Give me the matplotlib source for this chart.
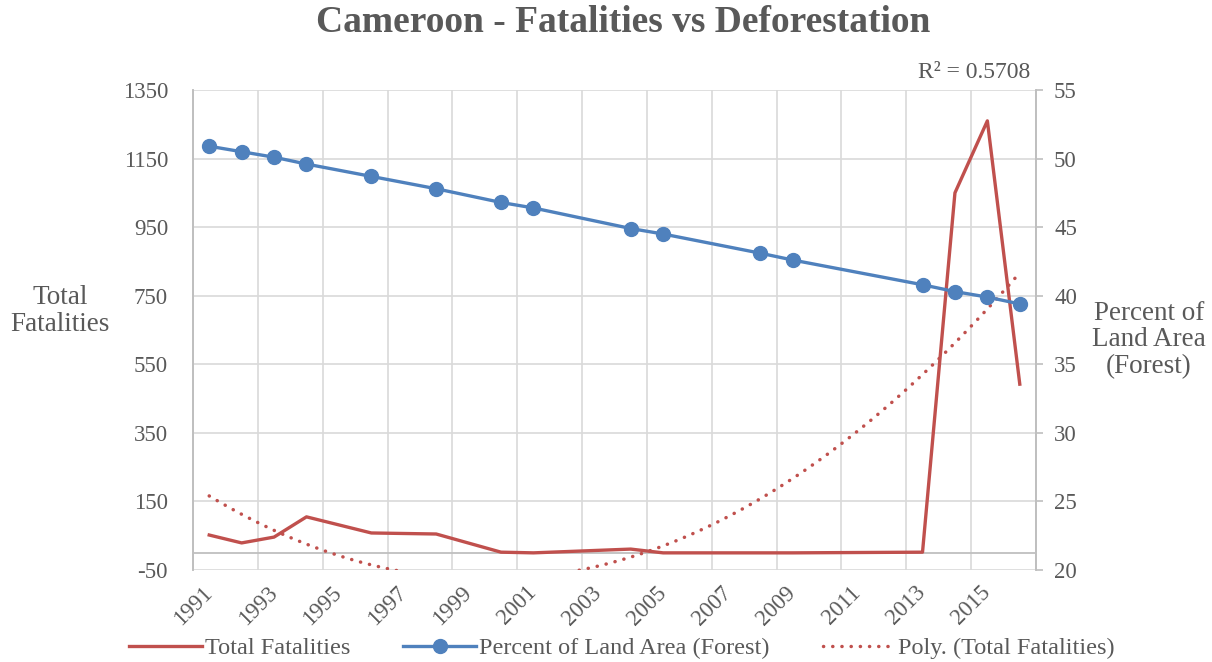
import numpy as np
import matplotlib
matplotlib.use("Agg")
import matplotlib.pyplot as plt
from matplotlib.lines import Line2D

# Data (years with values; other years are blank in the source sheet)
years = [1991, 1992, 1993, 1994, 1996, 1998, 2000, 2001,
         2004, 2005, 2008, 2009, 2013, 2014, 2015, 2016]
fatalities = [52, 29, 46, 105, 58, 55, 2, 0,
              11, 0, 0, 0, 2, 1050, 1260, 492]
forest_pct = [50.9, 50.5, 50.1, 49.6, 48.7, 47.8, 46.8, 46.4,
              44.9, 44.5, 43.1, 42.6, 40.8, 40.3, 39.9, 39.4]
year_labels = list(range(1991, 2016, 2))

red = "#C0504D"
blue = "#4F81BD"
txt = "#595959"
grid_c = "#D9D9D9"
axis_c = "#BFBFBF"

plt.rcParams["font.family"] = ["Liberation Serif", "DejaVu Serif"]
plt.rcParams["axes.unicode_minus"] = False

fig = plt.figure(figsize=(12.12, 6.62), dpi=100)
ax = fig.add_axes([193 / 1212, 1 - 570 / 662, (1036 - 193) / 1212, 480 / 662])
ax2 = ax.twinx()

# order-2 polynomial trendline of fatalities (as in the spreadsheet)
coef = np.polyfit(years, fatalities, 2)
xs = np.linspace(years[0], years[-1], 300)
trend = np.polyval(coef, xs)

dots = (0, (0.05, 2.6))
ax.plot(years, fatalities, color=red, lw=2.4, zorder=3)
ax.plot(xs, trend, color=red, lw=2.5, linestyle=dots,
        dash_capstyle="round", zorder=3)
ax2.plot(years, forest_pct, color=blue, lw=2.4, marker="o", markersize=10,
         zorder=3)

# left axis
ax.set_xlim(1990.5, 2016.5)
ax.set_ylim(-50, 1350)
ax.set_yticks(np.arange(-50, 1351, 200))
ax.set_xticks(year_labels)
ax.set_xticks(np.arange(1990.5, 2017, 2), minor=True)
ax.set_xticklabels([str(y) for y in year_labels], rotation=45, ha="right",
                   va="center", rotation_mode="anchor")
ax.tick_params(axis="x", which="both", length=0, pad=14, labelsize=16.5,
               labelcolor=txt)
ax.tick_params(axis="y", length=0, pad=18, labelsize=16.5, labelcolor=txt)
ax.grid(True, which="minor", axis="x", color=grid_c, lw=1.2)
ax.grid(True, which="major", axis="y", color=grid_c, lw=1.2)
ax.axhline(0, color=axis_c, lw=1.3, zorder=2)
ax.set_axisbelow(True)

# right axis
ax2.set_ylim(20, 55)
ax2.set_yticks(np.arange(20, 56, 5))
ax2.tick_params(axis="y", direction="out", length=5, width=1.2,
                color=axis_c, pad=8, labelsize=16.5, labelcolor=txt)

for a in (ax, ax2):
    for s in ("top", "bottom"):
        a.spines[s].set_visible(False)
    for s in ("left", "right"):
        a.spines[s].set_color(axis_c)
        a.spines[s].set_linewidth(1.2)

fig.text(623 / 1212, 1 - 23 / 662, "Cameroon - Fatalities vs Deforestation",
         ha="center", va="center", fontsize=27, fontweight="bold", color=txt)
fig.text(1030 / 1212, 1 - 73 / 662, "R² = 0.5708", ha="right", va="center",
         fontsize=17, color=txt)
fig.text(60 / 1212, 1 - 311 / 662, "Total\nFatalities", ha="center",
         va="center", fontsize=19.5, color=txt, linespacing=1.1)
fig.text(1149 / 1212, 1 - 340 / 662, "Percent of\nLand Area\n(Forest)",
         ha="center", va="center", fontsize=19.5, color=txt, linespacing=1.1)

handles = [
    Line2D([], [], color=red, lw=2.4),
    Line2D([], [], color=blue, lw=2.4, marker="o", markersize=10),
    Line2D([], [], color=red, lw=2.5, linestyle=dots, dash_capstyle="round"),
]
labels = ["Total Fatalities", "Percent of Land Area (Forest)",
          "Poly. (Total Fatalities)"]
leg = fig.legend(handles, labels, loc="center", ncol=3, frameon=False,
                 bbox_to_anchor=(622 / 1212, 1 - 648 / 662), fontsize=17.5,
                 handlelength=3.0, handletextpad=0.1, columnspacing=2.2)
for t in leg.get_texts():
    t.set_color(txt)

fig.savefig("out.png", dpi=100)
